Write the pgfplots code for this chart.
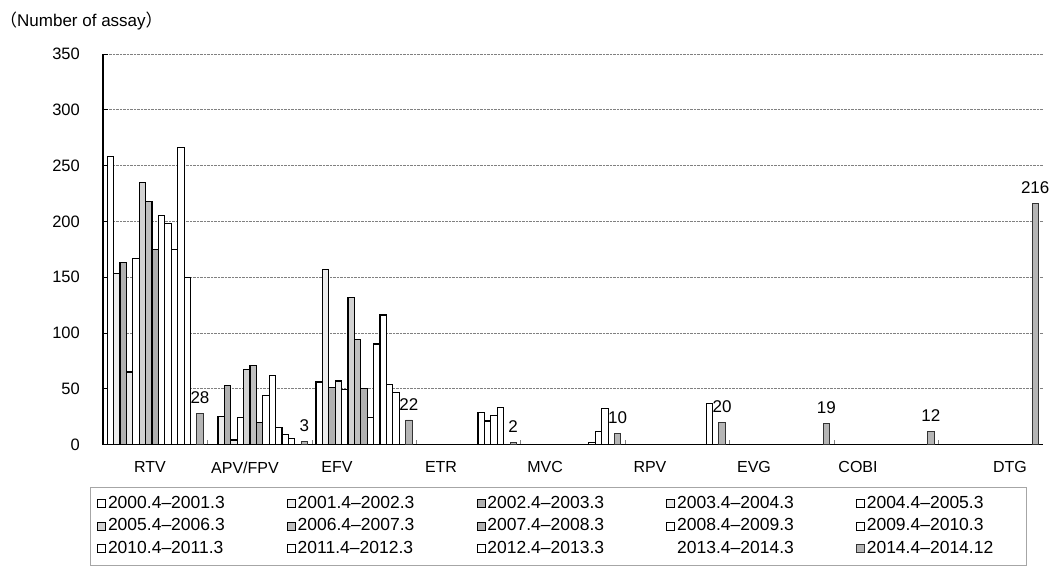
\documentclass[border=0pt]{standalone}
\usepackage{fontspec}
\setmainfont{Liberation Sans}
\newfontfamily\cjk{Noto Sans CJK JP}
\usepackage{pgfplots}
\pgfplotsset{compat=1.18}
\begin{document}
\begin{tikzpicture}[x=1pt,y=1pt]
\useasboundingbox (0,0) rectangle (1054,-571);
\node[anchor=west, inner sep=0pt, font=\fontsize{17}{20}\selectfont] at (0,-21) {{\cjk （}Number of assay{\cjk ）}};
\begin{axis}[
  at={(103pt,-444.5pt)}, anchor=south west,
  scale only axis, width=939.6pt, height=390.5pt,
  xmin=0, xmax=9, ymin=0, ymax=350,
  /pgf/number format/assume math mode=true,
  axis lines=left, axis line style={-, black, line width=1.1pt},
  ybar=0pt, bar width=0.0613,
  ytick={0,50,...,350},
  ymajorgrids, grid style={densely dotted, gray, line width=0.7pt},
  tick align=inside, major tick length=5pt,
  ytick style={black, line width=0.8pt},
  yticklabel style={font=\fontsize{16.5}{16.5}\selectfont, inner sep=0pt, anchor=east, xshift=-23pt},
  xtick={1,2,3,4,5,6,7,8}, xticklabels={},
  xtick style={gray, line width=0.6pt},
  extra x ticks={0.450,1.360,2.241,3.238,4.234,5.239,6.236,7.232,8.688},
  extra x tick labels={RTV,APV/FPV,EFV,ETR,MVC,RPV,EVG,COBI,DTG},
  extra x tick style={major tick length=0pt, grid=none,
     xticklabel style={font=\fontsize{16}{16}\selectfont, inner sep=0pt, anchor=north, yshift=-17pt}},
  legend columns=5,
  legend cell align=left,
  legend image code/.code={\draw[#1, line width=0.7pt] (0pt,-4pt) rectangle (8pt,4pt);},
  legend style={at={(0,0)}, anchor=north west, xshift=-13pt, yshift=-42.5pt,
     draw=gray!70, line width=0.6pt, inner xsep=7pt, inner ysep=8pt,
     font=\fontsize{17.5}{17.5}\selectfont, row sep=5.5pt,
     /tikz/every odd column/.append style={column sep=0pt},
     /tikz/every even column/.append style={column sep=27pt},
     nodes={inner xsep=2pt, inner ysep=0pt, text height=13pt, text depth=4pt, text width=150pt, align=left}},
]
% s1 2000.4-2001.3
\addplot[draw=black, fill=white, line width=1.2pt] coordinates {(0.5,258) (2.5,56)};
% s2 2001.4-2002.3
\addplot[draw=black, fill=gray!15, line width=1.2pt] coordinates {(0.5,153) (1.5,25) (2.5,157)};
% s3 2002.4-2003.3
\addplot[draw=black, fill=gray!62, line width=1.2pt] coordinates {(0.5,163) (1.5,53) (2.5,51)};
% s4 2003.4-2004.3
\addplot[draw=black, fill=gray!18, line width=1.2pt] coordinates {(0.5,65) (1.5,4) (2.5,57)};
% s5 2004.4-2005.3
\addplot[draw=black, fill=white, line width=1.2pt] coordinates {(0.5,167) (1.5,24) (2.5,49)};
% s6 2005.4-2006.3
\addplot[draw=black, fill=gray!35, line width=1.2pt] coordinates {(0.5,235) (1.5,67) (2.5,132)};
% s7 2006.4-2007.3
\addplot[draw=black, fill=gray!50, line width=1.2pt] coordinates {(0.5,218) (1.5,71) (2.5,94)};
% s8 2007.4-2008.3
\addplot[draw=black, fill=gray!62, line width=1.2pt] coordinates {(0.5,175) (1.5,20) (2.5,50)};
% s9 2008.4-2009.3
\addplot[draw=black, fill=white, line width=1.2pt] coordinates {(0.5,205) (1.5,44) (2.5,24)};
% s10 2009.4-2010.3
\addplot[draw=black, fill=white, line width=1.2pt] coordinates {(0.5,198) (1.5,62) (2.5,90) (3.5,29)};
% s11 2010.4-2011.3
\addplot[draw=black, fill=white, line width=1.2pt] coordinates {(0.5,175) (1.5,15) (2.5,116) (3.5,21) (4.5,2)};
% s12 2011.4-2012.3
\addplot[draw=black, fill=white, line width=1.0pt] coordinates {(0.5,266) (1.5,9) (2.5,54) (3.5,26) (4.5,12)};
% s13 2012.4-2013.3
\addplot[draw=black, fill=white, line width=0.9pt] coordinates {(0.5,150) (1.5,5) (2.5,47) (3.5,33) (4.5,32) (5.5,37)};
% s14 2013.4-2014.3 (invisible)
\addplot[draw=none, fill=none, legend image code/.code={\path (0pt,-4pt) rectangle (8pt,4pt);}] coordinates {(0.5,0) (1.5,0) (2.5,0)};
% s15 2014.4-2014.12
\addplot[draw=black!80, fill=gray!58, line width=0.8pt,
  nodes near coords={\pgfmathprintnumber[assume math mode=true]{\pgfplotspointmeta}},
  every node near coord/.append style={font=\fontsize{17}{17}\selectfont, inner sep=0pt, anchor=south, yshift=9pt, text=black}]
  coordinates {(0.5,28) (1.5,3) (2.5,22) (3.5,2) (4.5,10) (5.5,20) (6.5,19) (7.5,12) (8.5,216)};
\legend{2000.4--2001.3, 2001.4--2002.3, 2002.4--2003.3, 2003.4--2004.3, 2004.4--2005.3,
        2005.4--2006.3, 2006.4--2007.3, 2007.4--2008.3, 2008.4--2009.3, 2009.4--2010.3,
        2010.4--2011.3, 2011.4--2012.3, 2012.4--2013.3, 2013.4--2014.3, 2014.4--2014.12}
\end{axis}
\end{tikzpicture}
\end{document}
